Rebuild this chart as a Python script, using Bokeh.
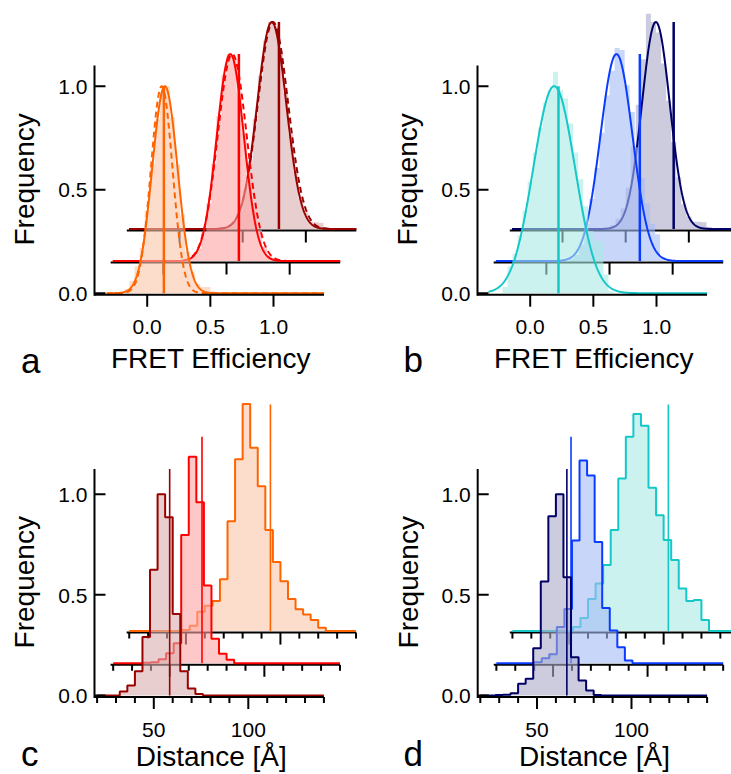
import numpy as np
from bokeh.core.properties import value
from bokeh.embed import file_html
from bokeh.layouts import column, row
from bokeh.models import Range1d
from bokeh.plotting import figure
from bokeh.resources import INLINE

FONT = "Liberation Sans"

# ---------------------------------------------------------------
# FRET efficiency histograms (panels a and b), bins 0.04 wide.
# Each histogram is given by the left edge of its first bin.
# ---------------------------------------------------------------
E_BIN_WIDTH = 0.04
E_AXIS = (-0.4173, 1.40)
E_YTOP = 1.10
E_TICKS = [0.0, 0.5, 1.0]
E_TICK_LABELS = ["0.0", "0.5", "1.0"]
E_CURVE_END = 1.40

A_HIST_START = [-0.18, 0.18, 0.34]
A_HIST_0 = [0.02, 0.06, 0.13, 0.22, 0.40, 0.62, 0.84, 0.97, 1.00, 0.85, 0.62,
            0.38, 0.20, 0.10, 0.045, 0.03, 0.03, 0.01]
A_HIST_1 = [0.01, 0.025, 0.06, 0.14, 0.28, 0.47, 0.70, 0.90, 1.00, 0.97, 0.82,
            0.62, 0.40, 0.26, 0.15, 0.07, 0.03, 0.015, 0.005]
A_HIST_2 = [0.005, 0.015, 0.04, 0.09, 0.19, 0.33, 0.53, 0.74, 0.91, 1.00, 0.98,
            0.86, 0.66, 0.46, 0.28, 0.15, 0.08, 0.035, 0.033, 0.03, 0.01]
# Gaussian fits (solid) and alternative model (dashed)
A_FIT_CENTER = [0.14, 0.53, 0.73]
A_FIT_WIDTH = [0.100, 0.107, 0.115]
A_ALT_CENTER = [0.115, 0.545, 0.74]
A_ALT_WIDTH = [0.085, 0.115, 0.12]
A_MARK = [0.132, 0.598, 0.787]
A_CURVE_START = [-0.32, -0.40, -0.40]

B_HIST_START = [-0.22, 0.18, 0.38]
B_HIST_0 = [0.03, 0.13, 0.19, 0.28, 0.40, 0.54, 0.68, 0.80, 0.92, 0.98, 1.07,
            0.98, 0.94, 0.82, 0.68, 0.55, 0.42, 0.30, 0.26, 0.25, 0.09, 0.01]
B_HIST_1 = [0.01, 0.03, 0.08, 0.18, 0.30, 0.45, 0.62, 0.80, 0.92, 1.03, 1.02,
            0.85, 0.72, 0.55, 0.40, 0.28, 0.18, 0.13, 0.02]
B_HIST_2 = [0.02, 0.05, 0.10, 0.20, 0.40, 0.60, 0.82, 1.04, 1.00, 0.95, 0.80,
            0.62, 0.42, 0.25, 0.12, 0.06, 0.035, 0.035, 0.033, 0.01]
B_FIT_CENTER = [0.19, 0.555, 0.739]
B_FIT_WIDTH = [0.165, 0.127, 0.110]
B_MARK = [0.224, 0.740, 0.880]
B_CURVE_START = [-0.33, -0.40, -0.40]

# ---------------------------------------------------------------
# Distance histograms (panels c and d), 4 A bins from 20 to 140 A
# ---------------------------------------------------------------
R_BIN_START = 20
R_BIN_WIDTH = 4
R_AXIS = (18.62, 140)
R_YTOP = 1.125
R_TICKS = [50, 100]
R_TICK_LABELS = ["50", "100"]
R_MINOR = [20, 30, 40, 60, 70, 80, 90, 110, 120, 130, 140]

C_HIST_0 = [0, 0, 0, 0.02, 0.05, 0.12, 0.29, 0.625, 1.0, 0.885, 0.405, 0.12,
            0.035, 0.008, 0, 0, 0, 0, 0, 0, 0, 0, 0, 0, 0, 0, 0, 0, 0, 0]
C_HIST_1 = [0, 0, 0, 0, 0.003, 0.005, 0.02, 0.05, 0.10, 0.637, 1.026, 0.80,
            0.386, 0.122, 0.047, 0.017, 0, 0, 0, 0, 0, 0, 0, 0, 0, 0, 0, 0, 0, 0]
C_HIST_2 = [0, 0, 0, 0, 0, 0, 0, 0.005, 0.026, 0.096, 0.126, 0.15, 0.258, 0.546,
            0.854, 1.128, 0.911, 0.72, 0.502, 0.343, 0.248, 0.16, 0.108, 0.083,
            0.055, 0.016, 0, 0, 0, 0]
C_MARK = [58.4, 67.0, 94.7]

D_HIST_0 = [0, 0, 0.003, 0.004, 0.011, 0.058, 0.083, 0.235, 0.566, 0.891, 1.0,
            0.588, 0.19, 0.075, 0.025, 0.003, 0, 0, 0, 0, 0, 0, 0, 0, 0, 0, 0, 0,
            0, 0]
D_HIST_1 = [0, 0, 0, 0, 0, 0.005, 0.025, 0.045, 0.18, 0.27, 0.61, 1.007, 0.933,
            0.602, 0.275, 0.163, 0.08, 0.014, 0, 0, 0, 0, 0, 0, 0, 0, 0, 0, 0, 0]
D_HIST_2 = [0, 0, 0, 0, 0, 0, 0, 0, 0.02, 0.065, 0.16, 0.237, 0.328, 0.502,
            0.758, 0.965, 1.078, 1.02, 0.712, 0.576, 0.452, 0.353, 0.212, 0.15,
            0.154, 0.055, 0, 0, 0, 0]
D_MARK = [65.8, 59.5, 102.5]

Y_TICKS = [0.0, 0.5, 1.0]
Y_TICK_LABELS = ["0.0", "0.5", "1.0"]

# colours: line colour and the tint used for the translucent fill
ORANGE, ORANGE_F = "#FF6400", "#FAC6AA"
RED, RED_F = "#FF0000", "#FFA3A3"
DARKRED, DARKRED_F = "#990000", "#D9ADAD"
CYAN, CYAN_F = "#14C8C8", "#AAE9E6"
BLUE, BLUE_F = "#0A3CFF", "#A3BBF7"
NAVY, NAVY_F = "#000066", "#AAAAC8"
FILL_ALPHA = 0.6

# the text glyph draws its alphabetic baseline this far (x font size) below
# the anchor, so anchors are raised by the same amount
TEXT_DROP = 0.32


class Panel:
    """A figure whose whole canvas is the data frame; px/py are canvas pixels."""

    def __init__(self, width, height, anchor, sx, py0, sy):
        self.xa, self.pxa = anchor
        self.sx, self.py0, self.sy = sx, py0, sy
        self.p = figure(width=width, height=height,
                        x_range=Range1d(self.x(0), self.x(width)),
                        y_range=Range1d(self.y(height), self.y(0)),
                        x_axis_location=None, y_axis_location=None,
                        output_backend="svg", toolbar_location=None,
                        min_border=0)
        self.p.outline_line_color = None
        self.p.xgrid.visible = False
        self.p.ygrid.visible = False
        self.p.background_fill_color = "white"
        self.p.border_fill_color = "white"
        # axis line sits 1.5 px under the zero baseline
        self.y_line = -1.5 / sy

    def x(self, px):
        return self.xa + (px - self.pxa) / self.sx

    def y(self, py):
        return (self.py0 - py) / self.sy

    def lx(self, n):
        return n / self.sx

    def ly(self, n):
        return n / self.sy

    def text(self, xs, ys, texts, size, align="center", angle=0.0):
        drop = TEXT_DROP * size
        if angle:
            xs = [v - self.lx(drop) for v in xs]
        else:
            ys = [v + self.ly(drop) for v in ys]
        self.p.text(x=xs, y=ys, text=texts, text_font=value(FONT),
                    text_font_size=value(f"{size}px"), text_align=value(align),
                    text_baseline=value("alphabetic"), text_color=value("black"),
                    angle=angle)


def draw_x_axis(pn, y_line, lo, hi, major, minor, major_len=12, minor_len=6):
    p = pn.p
    p.segment(x0=[lo], y0=[y_line], x1=[hi], y1=[y_line],
              line_color="black", line_width=2)
    p.segment(x0=major, y0=[y_line] * len(major), x1=major,
              y1=[y_line - pn.ly(major_len)] * len(major),
              line_color="black", line_width=2)
    if minor:
        p.segment(x0=minor, y0=[y_line] * len(minor), x1=minor,
                  y1=[y_line - pn.ly(minor_len)] * len(minor),
                  line_color="black", line_width=2)


def draw_main_axes(pn, lo, hi, ytop, xticks, xlabels, xminor, xtitle, title_x,
                   title_gap, letter, letter_px):
    p = pn.p
    yl = pn.y_line
    draw_x_axis(pn, yl, lo, hi, xticks, xminor)
    # y axis with inward ticks
    p.segment(x0=[lo], y0=[yl - pn.ly(1)], x1=[lo], y1=[ytop],
              line_color="black", line_width=2)
    p.segment(x0=[lo] * 3, y0=Y_TICKS, x1=[lo + pn.lx(11)] * 3, y1=Y_TICKS,
              line_color="black", line_width=2)
    pn.text([lo - pn.lx(7)] * 3, [t - pn.ly(7.5) for t in Y_TICKS], Y_TICK_LABELS,
            21, align="right")
    pn.text(xticks, [yl - pn.ly(39.5)] * len(xticks), xlabels, 21)
    # titles and panel letter
    pn.text([title_x], [yl - pn.ly(title_gap)], [xtitle], 28)
    pn.text([lo - pn.lx(60.7)], [ytop / 2], ["Frequency"], 28, angle=np.pi / 2)
    pn.text([pn.x(letter_px[0])], [pn.y(letter_px[1])], [letter], 35, align="left")


def fret_panel(pn, hist_start, hists, centers, widths, alt_centers, alt_widths,
               marks, curve_start, colors, fills, dx, dy):
    p = pn.p
    for k in (2, 1, 0):
        if k > 0:
            draw_x_axis(pn, pn.y_line + k * dy, E_AXIS[0] + k * dx, E_AXIS[1] + k * dx,
                        [t + k * dx for t in E_TICKS], None)
        vals = np.array(hists[k], dtype=float)
        edges = hist_start[k] + E_BIN_WIDTH * np.arange(len(vals) + 1)
        top = np.append(vals, vals[-1])
        p.varea_step(x=edges + k * dx, y1=np.full(len(edges), k * dy), y2=top + k * dy,
                     step_mode="after", fill_color=fills[k], fill_alpha=FILL_ALPHA)
        xs = np.linspace(curve_start[k], E_CURVE_END, 700)
        if alt_centers is not None:
            ya = np.exp(-0.5 * ((xs - alt_centers[k]) / alt_widths[k]) ** 2)
            p.line(xs + k * dx, ya + k * dy, line_color=colors[k], line_width=2,
                   line_dash="6 4")
        yf = np.exp(-0.5 * ((xs - centers[k]) / widths[k]) ** 2)
        p.line(xs + k * dx, yf + k * dy, line_color=colors[k], line_width=2)
        p.segment(x0=[marks[k] + k * dx], y0=[k * dy], x1=[marks[k] + k * dx],
                  y1=[1.0 + k * dy], line_color=colors[k], line_width=2.5)


def distance_panel(pn, hists, marks, colors, fills, dx, dy):
    p = pn.p
    for k in (2, 1, 0):
        if k > 0:
            draw_x_axis(pn, pn.y_line + k * dy, R_AXIS[0] + k * dx, R_AXIS[1] + k * dx,
                        [t + k * dx for t in R_TICKS], [t + k * dx for t in R_MINOR])
        vals = np.array(hists[k], dtype=float)
        edges = R_BIN_START + R_BIN_WIDTH * np.arange(len(vals) + 1)
        top = np.append(vals, vals[-1])
        p.varea_step(x=edges + k * dx, y1=np.full(len(edges), k * dy), y2=top + k * dy,
                     step_mode="after", fill_color=fills[k], fill_alpha=FILL_ALPHA)
        p.step(x=edges + k * dx, y=top + k * dy, mode="after", line_color=colors[k],
               line_width=2)
        p.segment(x0=[marks[k] + k * dx], y0=[k * dy], x1=[marks[k] + k * dx],
                  y1=[R_YTOP + k * dy], line_color=colors[k], line_width=1.6)


# ---- panels a and b: FRET efficiency ----
E_SX, E_SY, E_PY0 = 126.3, 207.0, 292.7
E_DX, E_DY = 0.128, 0.155

pa = Panel(365, 388, (0.0, 146.7), E_SX, E_PY0, E_SY)
fret_panel(pa, A_HIST_START, [A_HIST_0, A_HIST_1, A_HIST_2], A_FIT_CENTER,
           A_FIT_WIDTH, A_ALT_CENTER, A_ALT_WIDTH, A_MARK, A_CURVE_START,
           [ORANGE, RED, DARKRED], [ORANGE_F, RED_F, DARKRED_F], E_DX, E_DY)
draw_main_axes(pa, E_AXIS[0], E_AXIS[1], E_YTOP, E_TICKS, E_TICK_LABELS, None,
               "FRET Efficiency", 0.505, 72.5, "a", (20.5, 371.5))

pb = Panel(366, 388, (0.0, 164.7), E_SX, E_PY0, E_SY)
fret_panel(pb, B_HIST_START, [B_HIST_0, B_HIST_1, B_HIST_2], B_FIT_CENTER,
           B_FIT_WIDTH, None, None, B_MARK, B_CURVE_START,
           [CYAN, BLUE, NAVY], [CYAN_F, BLUE_F, NAVY_F], E_DX, E_DY)
draw_main_axes(pb, E_AXIS[0], E_AXIS[1], E_YTOP, E_TICKS, E_TICK_LABELS, None,
               "FRET Efficiency", 0.505, 72.5, "b", (38.0, 370.5))

# ---- panels c and d: distance ----
R_SX, R_SY, R_PY0 = 1.89, 201.3, 307.0
R_DX, R_DY = 8.5, 0.16

pc = Panel(365, 386, (50.0, 153.3), R_SX, R_PY0, R_SY)
distance_panel(pc, [C_HIST_0, C_HIST_1, C_HIST_2], C_MARK,
               [DARKRED, RED, ORANGE], [DARKRED_F, RED_F, ORANGE_F], R_DX, R_DY)
draw_main_axes(pc, R_AXIS[0], R_AXIS[1], R_YTOP, R_TICKS, R_TICK_LABELS, R_MINOR,
               "Distance [Å]", 80.4, 68.5, "c", (20.5, 376.5))

pd_ = Panel(366, 386, (50.0, 171.5), R_SX, R_PY0, R_SY)
distance_panel(pd_, [D_HIST_0, D_HIST_1, D_HIST_2], D_MARK,
               [NAVY, BLUE, CYAN], [NAVY_F, BLUE_F, CYAN_F], R_DX, R_DY)
draw_main_axes(pd_, R_AXIS[0], R_AXIS[1], R_YTOP, R_TICKS, R_TICK_LABELS, R_MINOR,
               "Distance [Å]", 80.4, 68.5, "d", (38.0, 376.5))

layout = column(row(pa.p, pb.p), row(pc.p, pd_.p))
open("out.html", "w").write(file_html(layout, INLINE))
